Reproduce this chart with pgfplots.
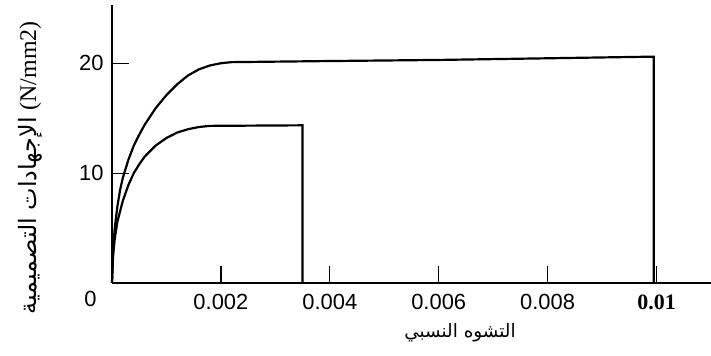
\documentclass[border=0pt]{standalone}
\usepackage{fontspec}
\usepackage{pgfplots}
\pgfplotsset{compat=1.18}
\setmainfont{Liberation Sans}
\newfontfamily\serif{Liberation Serif}
\newfontfamily\arabicfont[Script=Arabic]{DejaVu Sans}
\TeXXeTstate=1
\begin{document}
\begin{tikzpicture}
\begin{axis}[
  at={(112bp,73bp)}, anchor=south west,
  scale only axis, width=599bp, height=278bp,
  xmin=0, xmax=0.011, ymin=0, ymax=25.3,
  axis lines=left,
  axis line style={line width=1.6pt, -},
  xtick={0.002,0.004,0.006,0.008,0.01},
  xticklabels={0.002,0.004,0.006,0.008,{\serif\bfseries 0.01}},
  ytick={10,20}, yticklabels={10,20},
  scaled x ticks=false,
  tick align=inside, major tick length=17bp,
  tick style={line width=1.2pt, black},
  ticklabel style={font=\fontsize{22}{22}\selectfont},
  xticklabel style={yshift=-8bp},
  yticklabel style={xshift=-5bp},
  /pgf/number format/assume math mode=true,
  clip=false,
]
\addplot[black, line width=2.2pt, sharp plot] coordinates {
(0,0) (0.00002,3) (0.00005,5) (0.0001,7) (0.00015,8.5) (0.0002,9.6)
(0.0003,11.2) (0.0004,12.5) (0.0005,13.5) (0.0006,14.4) (0.0008,15.9)
(0.001,17.1) (0.0012,18.1) (0.0014,18.9) (0.0016,19.45) (0.0018,19.8)
(0.002,20.0) (0.0022,20.1) (0.004,20.2) (0.006,20.3) (0.008,20.45)
(0.00995,20.6) (0.00995,0)
};
\addplot[black, line width=2.2pt, sharp plot] coordinates {
(0,0) (0.00002,2.5) (0.00005,4) (0.0001,5.6) (0.0002,7.5) (0.0003,8.9)
(0.0004,10.0) (0.0005,10.8) (0.0006,11.5) (0.0008,12.5) (0.001,13.2)
(0.0012,13.7) (0.0014,14.0) (0.0016,14.2) (0.0018,14.3) (0.0035,14.35)
(0.0035,0)
};
\node[font=\fontsize{22}{22}\selectfont, anchor=north east] at (axis cs:0,0) [xshift=-12bp, yshift=-5bp] {0};
\end{axis}
\node[rotate=90, font=\fontsize{24}{24}\selectfont] at (30bp,188bp)
  {{\arabicfont\beginR الإجهادات التصميمية\endR} {\serif (N/mm2)}};
\node[font=\fontsize{18.5}{18.5}\selectfont] at (460bp,23bp)
  {\arabicfont\beginR التشوه النسبي\endR};
\pgfresetboundingbox
\path (0,0) rectangle (711bp,356bp);
\end{tikzpicture}
\end{document}
